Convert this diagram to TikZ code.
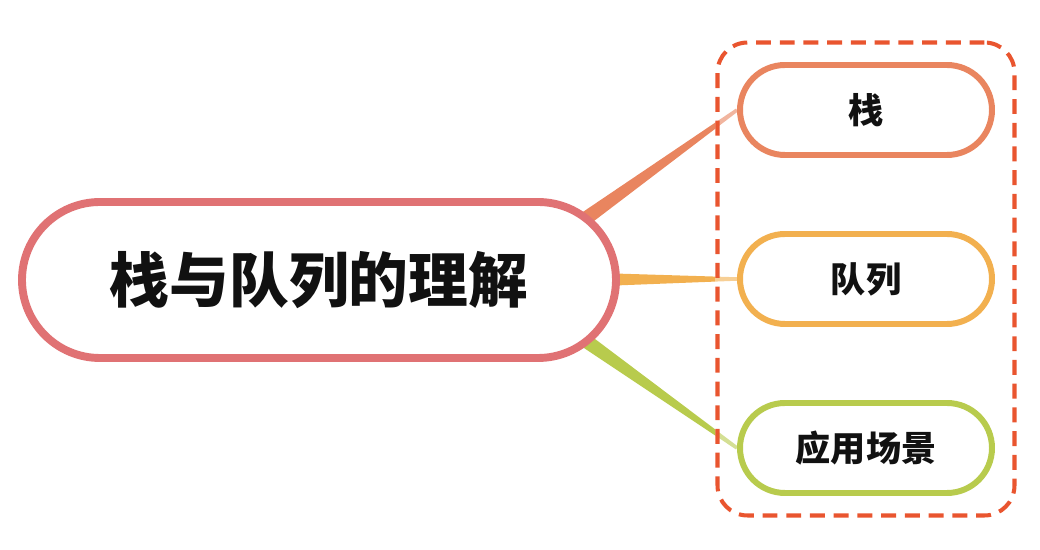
\documentclass[tikz,border=0pt]{standalone}
\usepackage{fontspec}
\newfontfamily\cjk{Noto Sans CJK SC}
\usepackage{tikz}
\usetikzlibrary{backgrounds,calc,fit}

\definecolor{cmain}{RGB}{224,114,116}
\definecolor{cstack}{RGB}{233,133,95}
\definecolor{cqueue}{RGB}{242,176,79}
\definecolor{cusage}{RGB}{184,203,77}
\definecolor{cgroup}{RGB}{233,85,47}
\definecolor{ctext}{RGB}{17,17,17}

\begin{document}
\begin{tikzpicture}[
	mainnode/.style={draw=cmain, line width=4.5pt, fill=white, rounded corners=1.56cm,
		minimum width=11.88cm, minimum height=3.12cm, text=ctext, font=\cjk\bfseries\fontsize{34}{40}\selectfont},
	subnode/.style={line width=3.4pt, fill=white, rounded corners=0.9cm,
		minimum width=5.04cm, minimum height=1.8cm, text=ctext, font=\cjk\bfseries\fontsize{20}{24}\selectfont},
	groupbox/.style={draw=cgroup, line width=2.3pt, dash pattern=on 8.5pt off 5pt,
		rounded corners=0.6cm, inner sep=0.39cm}
	]% {{{ stack and queue
	\useasboundingbox (0,0) rectangle (20.8,11);

	\node[mainnode] (main) at (6.38,5.4) {栈与队列的理解};
	\coordinate (hub) at ($(main.east)+(-2.4,0)$);

	\node[subnode, draw=cstack] (stack) at (17.32,8.8) {栈};
	\node[subnode, draw=cqueue] (queue) at (17.32,5.42) {队列};
	\node[subnode, draw=cusage] (usage) at (17.32,2.04) {应用场景};

	\node[groupbox, fit=(stack)(queue)(usage)] (group) {};

	\begin{scope}[on background layer]
		\foreach \n/\c in {stack/cstack, queue/cqueue, usage/cusage}{
			\fill[\c] ($(hub)!0.2cm!90:(\n.west)$) -- ($(\n.west)!0.035cm!-90:(hub)$)
				-- ($(\n.west)!0.035cm!90:(hub)$) -- ($(hub)!0.2cm!-90:(\n.west)$) -- cycle;
		}
		\fill[white, opacity=0.4] (group.north west) rectangle (stack.west |- group.south);
	\end{scope}
\end{tikzpicture}
\end{document}
